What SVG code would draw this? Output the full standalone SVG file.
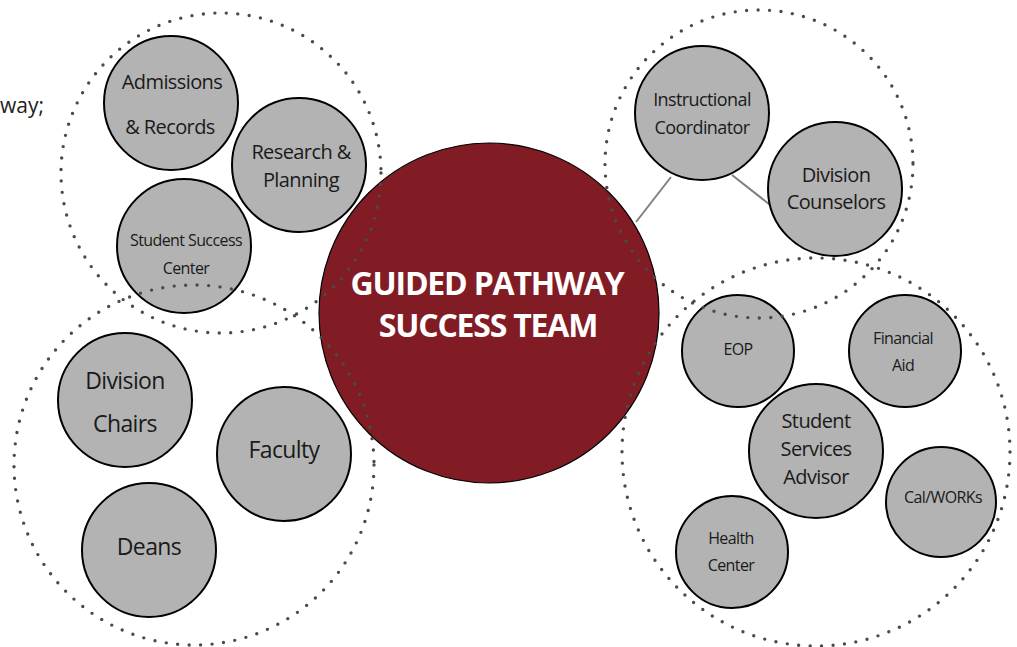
<svg xmlns="http://www.w3.org/2000/svg" width="1017" height="647" viewBox="0 0 1017 647">
<style>
.node{fill:#b3b3b3;stroke:#000;stroke-width:2}
.lbl{font-family:"Open Sans","Noto Sans",sans-serif;fill:#1a1a1a;text-anchor:middle;letter-spacing:-0.6px}
.ring{fill:none;stroke:#4a4a4a;stroke-width:3.4;stroke-linecap:round;stroke-dasharray:0 11.5}
.conn{stroke:#808080;stroke-width:2;fill:none}
.title{font-family:"Open Sans","Noto Sans",sans-serif;font-weight:bold;fill:#fff;text-anchor:middle;font-size:32px;letter-spacing:-1.2px}
</style>
<rect width="1017" height="647" fill="#fff"/>
<text x="0" y="113" font-family="Open Sans, Noto Sans, sans-serif" font-size="21" fill="#222">way;</text>
<g id="connectors">
<line class="conn" x1="636" y1="222" x2="671" y2="177"/>
<line class="conn" x1="732" y1="175" x2="774" y2="208"/>
</g>
<g id="center">
<circle cx="489" cy="313" r="170" fill="#821c24" stroke="#000" stroke-width="1.2"/>
<text class="title" x="487" y="295">GUIDED PATHWAY</text>
<text class="title" x="488" y="337">SUCCESS TEAM</text>
</g>
<g id="admissions"><circle class="node" cx="171" cy="103" r="67"/>
<text class="lbl" font-size="20" x="172" y="89">Admissions</text><text class="lbl" font-size="20" x="170" y="134">&amp; Records</text></g>
<g id="research"><circle class="node" cx="299" cy="165" r="67"/>
<text class="lbl" font-size="20" x="301" y="159">Research &amp;</text><text class="lbl" font-size="20" x="301" y="187">Planning</text></g>
<g id="ssc"><circle class="node" cx="184" cy="246" r="67"/>
<text class="lbl" font-size="16" x="186" y="246">Student Success</text><text class="lbl" font-size="16" x="186" y="274">Center</text></g>
<g id="instructional"><circle class="node" cx="702" cy="113" r="67"/>
<text class="lbl" font-size="18" x="702" y="106">Instructional</text><text class="lbl" font-size="18" x="702" y="134">Coordinator</text></g>
<g id="counselors"><circle class="node" cx="835" cy="189" r="67"/>
<text class="lbl" font-size="20" x="836" y="182">Division</text><text class="lbl" font-size="20" x="836" y="209">Counselors</text></g>
<g id="eop"><circle class="node" cx="738" cy="351" r="56"/>
<text class="lbl" font-size="16" x="738" y="355">EOP</text></g>
<g id="finaid"><circle class="node" cx="905" cy="351" r="56"/>
<text class="lbl" font-size="16" x="903" y="344">Financial</text><text class="lbl" font-size="16" x="903" y="371">Aid</text></g>
<g id="ssa"><circle class="node" cx="816" cy="451" r="67"/>
<text class="lbl" font-size="20" x="816" y="428">Student</text><text class="lbl" font-size="20" x="816" y="456">Services</text><text class="lbl" font-size="20" x="816" y="484">Advisor</text></g>
<g id="calworks"><circle class="node" cx="941" cy="502" r="55"/>
<text class="lbl" font-size="16" x="943" y="503">Cal/WORKs</text></g>
<g id="health"><circle class="node" cx="732" cy="552" r="56"/>
<text class="lbl" font-size="16" x="731" y="544">Health</text><text class="lbl" font-size="16" x="731" y="571">Center</text></g>
<g id="chairs"><circle class="node" cx="125" cy="400" r="67"/>
<text class="lbl" font-size="23" x="125" y="389">Division</text><text class="lbl" font-size="23" x="125" y="432">Chairs</text></g>
<g id="faculty"><circle class="node" cx="284" cy="454" r="67"/>
<text class="lbl" font-size="23" x="284" y="458">Faculty</text></g>
<g id="deans"><circle class="node" cx="149" cy="550" r="67"/>
<text class="lbl" font-size="23" x="149" y="555">Deans</text></g>
<g id="rings">
<circle class="ring" cx="221" cy="173" r="160"/>
<circle class="ring" cx="194" cy="465" r="180"/>
<circle class="ring" cx="759" cy="164" r="154"/>
<circle class="ring" cx="816" cy="452" r="194"/>
</g>
</svg>
